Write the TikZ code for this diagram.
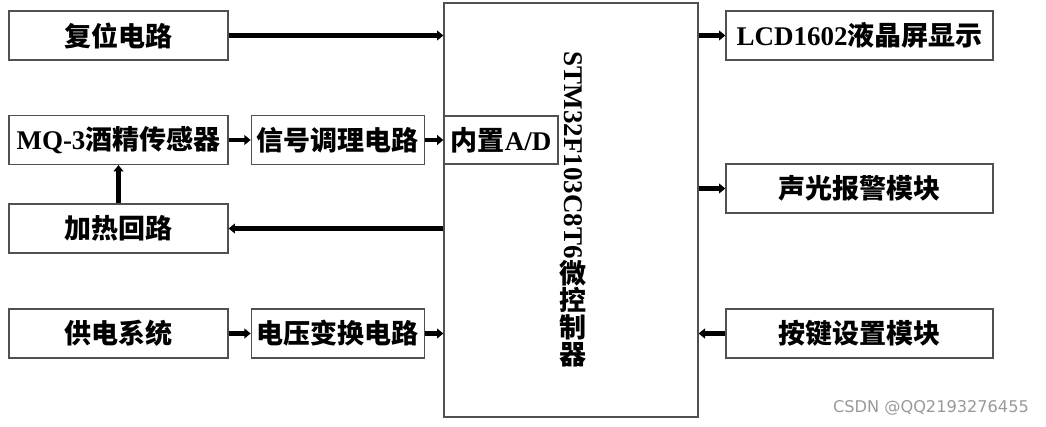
\documentclass[tikz,border=0pt]{standalone}
\usepackage{fontspec}
\setmainfont{Noto Sans CJK SC}
\newfontfamily\tnr{Liberation Serif}
\newfontfamily\wm{DejaVu Sans}
\usepackage{tikz}
\usetikzlibrary{arrows.meta,positioning}
\definecolor{boxline}{HTML}{505050}

\begin{document}
\begin{tikzpicture}[x=0.025cm, y=-0.025cm, node distance=0.55cm,
    every node/.style={font=\fontsize{19.2}{19.2}\selectfont\bfseries},
    blk/.style={draw=boxline, line width=0.9pt, inner sep=0pt, minimum height=1.225cm},
    sig/.style={-{Triangle[length=4.5pt,width=7pt]}, line width=3.3pt}]
  \useasboundingbox (0,0) rectangle (1046,427);
  % left column
  \node[blk, minimum width=5.475cm] (reset) at (118.5,35.5) {复位电路};
  \node[blk, minimum width=5.475cm] (sensor) at (118.5,140) {{\tnr MQ-3}酒精传感器};
  \node[blk, minimum width=5.475cm] (heat) at (118.5,228.5) {加热回路};
  \node[blk, minimum width=5.475cm] (power) at (118.5,333.5) {供电系统};
  \node[blk, minimum width=4.325cm, right=of sensor] (signal) {信号调理电路};
  \node[blk, minimum width=4.325cm, right=of power] (volt) {电压变换电路};
  % controller
  \node[blk, minimum width=6.35cm, minimum height=10.35cm] (mcu) at (571,210) {};
  \node[blk, minimum width=2.85cm, minimum height=1.2cm] (ad) at (501,140) {内置{\tnr A/D}};
  \node[align=center, inner sep=0pt] (mcutxt) at (573,209.5) {\rotatebox{-90}{\tnr STM32F103C8T6}\\微\\控\\制\\器};
  % right column
  \node[blk, minimum width=6.675cm] (lcd) at (859.5,35.5) {{\tnr LCD1602}液晶屏显示};
  \node[blk, minimum width=6.675cm] (alarm) at (859.5,188.5) {声光报警模块};
  \node[blk, minimum width=6.675cm] (key) at (859.5,333.5) {按键设置模块};
  \node[font=\wm\fontsize{11.5}{13}\selectfont, text=gray!80] (csdn) at (931,408) {CSDN @QQ2193276455};
  % connectors
  \foreach \a/\b in {sensor/signal,signal/ad,power/volt,heat/sensor}{\draw[sig] (\a) -- (\b);}
  \foreach \a in {reset,volt}{\draw[sig] (\a) -- (\a -| mcu.west);}
  \foreach \b in {lcd,alarm}{\draw[sig] (\b -| mcu.east) -- (\b);}
  \draw[sig] (key) -- (key -| mcu.east);
  \draw[sig] (heat -| mcu.west) -- (heat);
\end{tikzpicture}
\end{document}
